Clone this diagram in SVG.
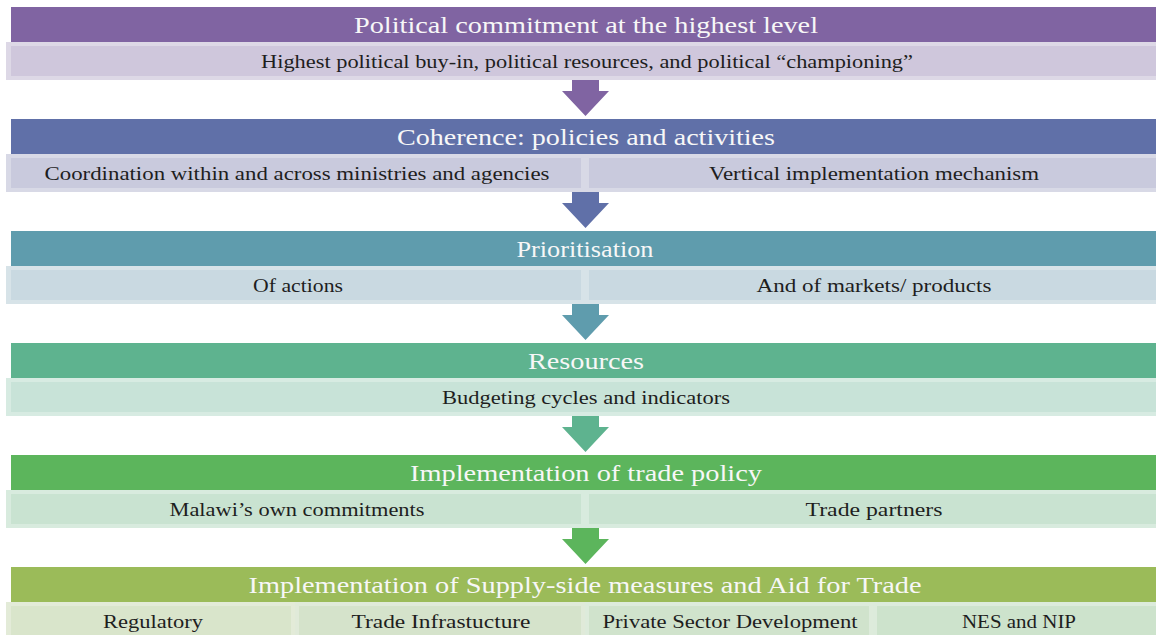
<svg xmlns="http://www.w3.org/2000/svg" width="1156" height="635" viewBox="0 0 1156 635">
<style>
.t{font-family:"Liberation Serif","DejaVu Serif",serif;font-size:24px;fill:#f7f7f7;text-anchor:middle}
.s{font-family:"Liberation Serif","DejaVu Serif",serif;font-size:19.5px;fill:#1e1e1e;text-anchor:middle}
</style>
<defs>
<path id="arr" d="M-13.5,0 H13.5 V11 H23.5 L0,36 L-23.5,11 H-13.5 Z"/>
</defs>
<rect width="1156" height="635" fill="#ffffff"/>
<g id="row1">
<rect x="11" y="7" width="1145" height="35" fill="#8064a2"/>
<text class="t" x="586" y="33" textLength="464" lengthAdjust="spacingAndGlyphs">Political commitment at the highest level</text>
<rect x="6" y="42" width="1150" height="38" fill="#ddd8e6"/>
<rect x="11" y="46" width="1145" height="30" fill="#cfc7dc"/>
<text class="s" x="587" y="68" textLength="652" lengthAdjust="spacingAndGlyphs">Highest political buy-in, political resources, and political “championing”</text>
</g>
<g id="row2">
<rect x="11" y="119" width="1145" height="35" fill="#6070a8"/>
<text class="t" x="586" y="145" textLength="378" lengthAdjust="spacingAndGlyphs">Coherence: policies and activities</text>
<rect x="6" y="154" width="579" height="38" fill="#d8d9e6"/>
<rect x="11" y="158" width="570" height="30" fill="#c9cadd"/>
<rect x="585" y="154" width="571" height="38" fill="#d8d9e6"/>
<rect x="589" y="158" width="567" height="30" fill="#c9cadd"/>
<text class="s" x="297" y="180" textLength="505" lengthAdjust="spacingAndGlyphs">Coordination within and across ministries and agencies</text>
<text class="s" x="874" y="180" textLength="330" lengthAdjust="spacingAndGlyphs">Vertical implementation mechanism</text>
</g>
<g id="row3">
<rect x="11" y="231" width="1145" height="35" fill="#5f9cad"/>
<text class="t" x="585" y="257" textLength="137" lengthAdjust="spacingAndGlyphs">Prioritisation</text>
<rect x="6" y="266" width="579" height="38" fill="#d7e3e8"/>
<rect x="11" y="270" width="570" height="30" fill="#c9d9e1"/>
<rect x="585" y="266" width="571" height="38" fill="#d7e3e8"/>
<rect x="589" y="270" width="567" height="30" fill="#c9d9e1"/>
<text class="s" x="298" y="292" textLength="90" lengthAdjust="spacingAndGlyphs">Of actions</text>
<text class="s" x="874" y="292" textLength="235" lengthAdjust="spacingAndGlyphs">And of markets/ products</text>
</g>
<g id="row4">
<rect x="11" y="343" width="1145" height="35" fill="#5eb38f"/>
<text class="t" x="586" y="369" textLength="116" lengthAdjust="spacingAndGlyphs">Resources</text>
<rect x="6" y="378" width="1150" height="38" fill="#d7ebe2"/>
<rect x="11" y="382" width="1145" height="30" fill="#c8e3d8"/>
<text class="s" x="586" y="404" textLength="288" lengthAdjust="spacingAndGlyphs">Budgeting cycles and indicators</text>
</g>
<g id="row5">
<rect x="11" y="455" width="1145" height="35" fill="#5cb55c"/>
<text class="t" x="586" y="481" textLength="352" lengthAdjust="spacingAndGlyphs">Implementation of trade policy</text>
<rect x="6" y="490" width="579" height="38" fill="#d8ebde"/>
<rect x="11" y="494" width="570" height="30" fill="#c9e3d1"/>
<rect x="585" y="490" width="571" height="38" fill="#d8ebde"/>
<rect x="589" y="494" width="567" height="30" fill="#c9e3d1"/>
<text class="s" x="297" y="516" textLength="255" lengthAdjust="spacingAndGlyphs">Malawi’s own commitments</text>
<text class="s" x="874" y="516" textLength="137" lengthAdjust="spacingAndGlyphs">Trade partners</text>
</g>
<g id="row6">
<rect x="11" y="567" width="1145" height="35" fill="#9bbb59"/>
<text class="t" x="585" y="593" textLength="673" lengthAdjust="spacingAndGlyphs">Implementation of Supply-side measures and Aid for Trade</text>
<rect x="6" y="602" width="289" height="38" fill="#e3ebd8"/>
<rect x="11" y="606" width="280" height="30" fill="#d9e5cb"/>
<rect x="295" y="602" width="290" height="38" fill="#e0ead9"/>
<rect x="299" y="606" width="282" height="30" fill="#d5e3cb"/>
<rect x="585" y="602" width="288" height="38" fill="#ddebdb"/>
<rect x="589" y="606" width="280" height="30" fill="#d0e3cc"/>
<rect x="873" y="602" width="283" height="38" fill="#dcebdb"/>
<rect x="877" y="606" width="279" height="30" fill="#cde3cc"/>
<text class="s" x="153" y="628" textLength="100" lengthAdjust="spacingAndGlyphs">Regulatory</text>
<text class="s" x="441" y="628" textLength="179" lengthAdjust="spacingAndGlyphs">Trade Infrastucture</text>
<text class="s" x="730" y="628" textLength="255" lengthAdjust="spacingAndGlyphs">Private Sector Development</text>
<text class="s" x="1019" y="628" textLength="114" lengthAdjust="spacingAndGlyphs">NES and NIP</text>
</g>
<g id="connectors">
<use href="#arr" x="585.5" y="80" fill="#8064a2"/>
<use href="#arr" x="585.5" y="192" fill="#6070a8"/>
<use href="#arr" x="585.5" y="304" fill="#5f9cad"/>
<use href="#arr" x="585.5" y="416" fill="#5eb38f"/>
<use href="#arr" x="585.5" y="528" fill="#5cb55c"/>
</g>
</svg>
